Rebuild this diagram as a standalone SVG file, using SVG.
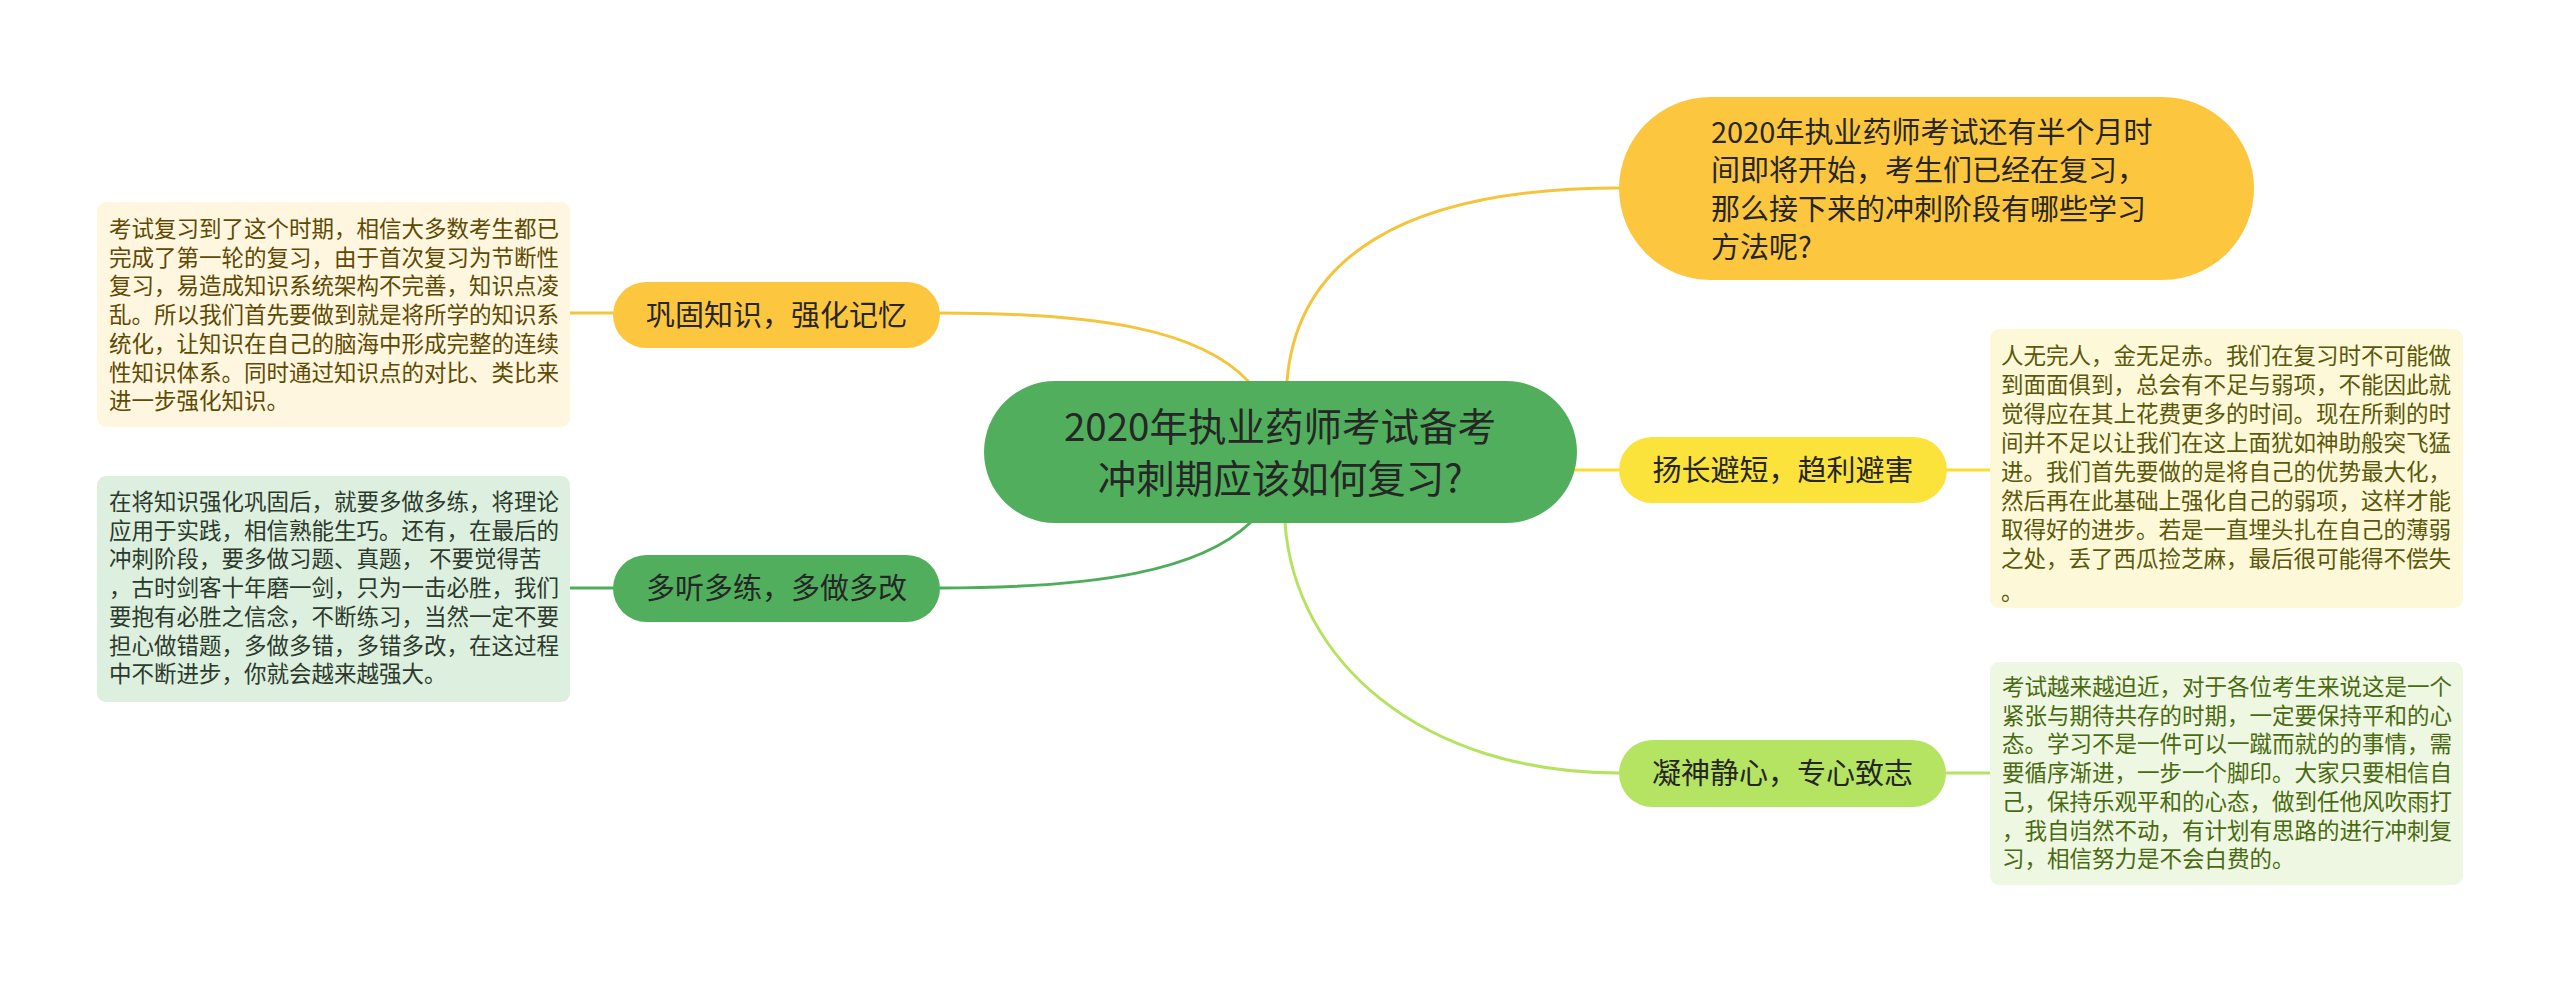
<svg xmlns="http://www.w3.org/2000/svg" width="2560" height="983" viewBox="0 0 2560 983">
<style>
  text { font-family: "Noto Sans CJK SC", "Noto Sans", sans-serif; }
  .conn { fill: none; stroke-width: 3; stroke-linecap: round; }
  .main { font-size: 38.5px; fill: #262626; text-anchor: middle; }
  .sub { font-size: 29px; fill: #262626; text-anchor: middle; }
  .intro { font-size: 29px; fill: #262626; }
  .note { font-size: 22.5px; }
</style>
<rect width="2560" height="983" fill="#ffffff"/>
<g id="connectors">
  <path class="conn" stroke="#F6C43C" d="M940 313 C1100 313 1200 330 1248 381"/>
  <path class="conn" stroke="#4DAD58" d="M940 588 C1100 588 1200 570 1250 523"/>
  <path class="conn" stroke="#F6C43C" d="M1287 381 C1297 260 1400 188 1620 188"/>
  <path class="conn" stroke="#F8DE33" d="M1540 470 L1619 470"/>
  <path class="conn" stroke="#B5E361" d="M1285 523 C1295 660 1420 773 1619 773"/>
  <path class="conn" stroke="#F6C43C" d="M570 313 L613 313"/>
  <path class="conn" stroke="#4DAD58" d="M570 588 L613 588"/>
  <path class="conn" stroke="#F8DE33" d="M1947 470 L1990 470"/>
  <path class="conn" stroke="#B5E361" d="M1946 773 L1990 773"/>
</g>
<g id="center">
  <rect x="984" y="381" width="593" height="142" rx="71" fill="#50AE5C"/>
  <text class="main" x="1280" y="441">2020年执业药师考试备考</text>
  <text class="main" x="1280" y="493">冲刺期应该如何复习?</text>
</g>
<g id="intro">
  <rect x="1619" y="97" width="635" height="183" rx="91.5" fill="#FCC73E"/>
  <text class="intro" x="1711" y="143">2020年执业药师考试还有半个月时</text>
  <text class="intro" x="1711" y="181">间即将开始，考生们已经在复习，</text>
  <text class="intro" x="1711" y="220">那么接下来的冲刺阶段有哪些学习</text>
  <text class="intro" x="1711" y="258">方法呢?</text>
</g>
<g id="topic1">
  <rect x="613" y="282" width="327" height="66" rx="33" fill="#FCC73E"/>
  <text class="sub" x="776.5" y="326">巩固知识，强化记忆</text>
</g>
<g id="topic2">
  <rect x="613" y="555" width="327" height="67" rx="33.5" fill="#50AE5C"/>
  <text class="sub" x="776.5" y="599">多听多练，多做多改</text>
</g>
<g id="topic3">
  <rect x="1619" y="437" width="328" height="66" rx="33" fill="#FBE33B"/>
  <text class="sub" x="1783" y="481">扬长避短，趋利避害</text>
</g>
<g id="topic4">
  <rect x="1619" y="740" width="327" height="67" rx="33.5" fill="#B5E362"/>
  <text class="sub" x="1782.5" y="784">凝神静心，专心致志</text>
</g>
<g id="note1">
  <rect x="97" y="202" width="473" height="225" rx="9" fill="#FEF6DE"/>
  <text class="note" fill="#5E4A04">
    <tspan x="109" y="237">考试复习到了这个时期，相信大多数考生都已</tspan>
    <tspan x="109" y="265.7">完成了第一轮的复习，由于首次复习为节断性</tspan>
    <tspan x="109" y="294.4">复习，易造成知识系统架构不完善，知识点凌</tspan>
    <tspan x="109" y="323.1">乱。所以我们首先要做到就是将所学的知识系</tspan>
    <tspan x="109" y="351.8">统化，让知识在自己的脑海中形成完整的连续</tspan>
    <tspan x="109" y="380.5">性知识体系。同时通过知识点的对比、类比来</tspan>
    <tspan x="109" y="409.2">进一步强化知识。</tspan>
  </text>
</g>
<g id="note2">
  <rect x="97" y="476" width="473" height="226" rx="9" fill="#DDEFDF"/>
  <text class="note" fill="#2C3A2C">
    <tspan x="109" y="510">在将知识强化巩固后，就要多做多练，将理论</tspan>
    <tspan x="109" y="538.7">应用于实践，相信熟能生巧。还有，在最后的</tspan>
    <tspan x="109" y="567.4">冲刺阶段，要多做习题、真题， 不要觉得苦</tspan>
    <tspan x="109" y="596.1">，古时剑客十年磨一剑，只为一击必胜，我们</tspan>
    <tspan x="109" y="624.8">要抱有必胜之信念，不断练习，当然一定不要</tspan>
    <tspan x="109" y="653.5">担心做错题，多做多错，多错多改，在这过程</tspan>
    <tspan x="109" y="682.2">中不断进步，你就会越来越强大。</tspan>
  </text>
</g>
<g id="note3">
  <rect x="1990" y="329" width="473" height="279" rx="9" fill="#FDF8D8"/>
  <text class="note" fill="#5A580C">
    <tspan x="2001" y="364">人无完人，金无足赤。我们在复习时不可能做</tspan>
    <tspan x="2001" y="393">到面面俱到，总会有不足与弱项，不能因此就</tspan>
    <tspan x="2001" y="422">觉得应在其上花费更多的时间。现在所剩的时</tspan>
    <tspan x="2001" y="451">间并不足以让我们在这上面犹如神助般突飞猛</tspan>
    <tspan x="2001" y="480">进。我们首先要做的是将自己的优势最大化，</tspan>
    <tspan x="2001" y="509">然后再在此基础上强化自己的弱项，这样才能</tspan>
    <tspan x="2001" y="538">取得好的进步。若是一直埋头扎在自己的薄弱</tspan>
    <tspan x="2001" y="567">之处，丢了西瓜捡芝麻，最后很可能得不偿失</tspan>
    <tspan x="2001" y="600">。</tspan>
  </text>
</g>
<g id="note4">
  <rect x="1990" y="662" width="473" height="223" rx="9" fill="#EEF7E1"/>
  <text class="note" fill="#4A6A12">
    <tspan x="2002" y="695">考试越来越迫近，对于各位考生来说这是一个</tspan>
    <tspan x="2002" y="723.7">紧张与期待共存的时期，一定要保持平和的心</tspan>
    <tspan x="2002" y="752.4">态。学习不是一件可以一蹴而就的的事情，需</tspan>
    <tspan x="2002" y="781.1">要循序渐进，一步一个脚印。大家只要相信自</tspan>
    <tspan x="2002" y="809.8">己，保持乐观平和的心态，做到任他风吹雨打</tspan>
    <tspan x="2002" y="838.5">，我自岿然不动，有计划有思路的进行冲刺复</tspan>
    <tspan x="2002" y="867.2">习，相信努力是不会白费的。</tspan>
  </text>
</g>
</svg>
